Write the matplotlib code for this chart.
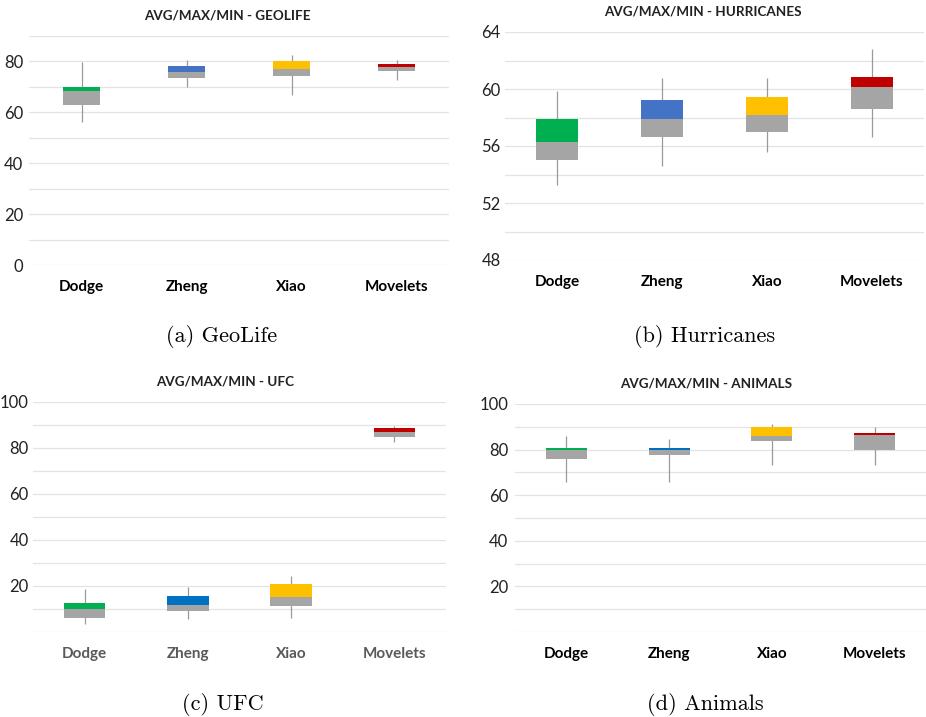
import matplotlib
matplotlib.use("Agg")
import matplotlib.pyplot as plt
from matplotlib.ticker import MultipleLocator

methods = ["Dodge", "Zheng", "Xiao", "Movelets"]

# GeoLife
geo_low = [56.1, 69.9, 67.0, 72.6]
geo_box_low = [62.7, 73.3, 74.2, 76.3]
geo_avg = [68.3, 75.9, 77.1, 77.8]
geo_box_high = [69.8, 78.3, 80.0, 79.1]
geo_high = [79.7, 80.4, 82.4, 80.4]

# Hurricanes
hur_low = [53.25, 54.6, 55.6, 56.6]
hur_box_low = [55.0, 56.65, 56.95, 58.6]
hur_avg = [56.25, 57.9, 58.2, 60.15]
hur_box_high = [57.9, 59.2, 59.45, 60.85]
hur_high = [59.85, 60.8, 60.8, 62.8]

# UFC
ufc_low = [3.6, 5.6, 6.2, 82.4]
ufc_box_low = [6.2, 9.1, 11.1, 84.6]
ufc_avg = [9.8, 11.7, 15.1, 87.1]
ufc_box_high = [12.6, 15.8, 20.9, 88.5]
ufc_high = [18.8, 19.6, 24.4, 89.4]

# Animals
ani_low = [65.9, 65.9, 73.2, 73.2]
ani_box_low = [76.0, 77.6, 83.7, 79.9]
ani_avg = [79.9, 79.7, 86.1, 86.3]
ani_box_high = [80.9, 80.6, 89.9, 87.4]
ani_high = [86.1, 84.8, 91.2, 89.9]

GREY = "#A5A5A5"
GREEN = "#00B050"
YELLOW = "#FFC000"
RED = "#C00000"

FONT = ["Lato", "DejaVu Sans"]
plt.rcParams["font.family"] = FONT

fig = plt.figure(figsize=(9.26, 7.17), dpi=100)


def panel(rect, title, title_xy, low, blo, avg, bhi, high, ylim, major, minor,
          colors, box_w, ypad, xlabel_color="#000000", hide_zero=False,
          tick_color="#222222"):
    ax = fig.add_axes(rect)
    x = [i + 0.5 for i in range(len(methods))]
    ax.vlines(x, low, high, color="#9A9A9A", lw=0.9, zorder=2)
    ax.bar(x, [a - b for a, b in zip(avg, blo)], bottom=blo, width=box_w,
           color=GREY, zorder=3)
    ax.bar(x, [h - a for h, a in zip(bhi, avg)], bottom=avg, width=box_w,
           color=colors, zorder=3)
    ax.set_xlim(0, len(methods))
    ax.set_ylim(*ylim)
    ax.yaxis.set_major_locator(MultipleLocator(major))
    ax.yaxis.set_minor_locator(MultipleLocator(minor))
    ax.grid(True, which="both", axis="y", color="#E3E3E3", lw=0.9, zorder=0)
    ax.set_axisbelow(True)
    for s in ax.spines.values():
        s.set_visible(False)
    ax.tick_params(axis="both", which="both", length=0)
    ax.tick_params(axis="y", labelsize=12, pad=ypad, colors=tick_color)
    ax.set_xticks(x)
    ax.set_xticklabels(methods, fontsize=11, fontweight="bold",
                       color=xlabel_color)
    ax.tick_params(axis="x", pad=11)
    if hide_zero:
        ticks = [t for t in ax.get_yticks() if ylim[0] < t <= ylim[1]]
        ax.set_yticks(ticks)
        ax.set_yticklabels([f"{int(t)}" for t in ticks])
    fig.text(title_xy[0] / 926, 1 - title_xy[1] / 717, title, ha="center",
             va="center", fontsize=9.7, fontweight="bold", color="#222222")
    return ax


panel([29 / 926, 452 / 717, 420 / 926, 229 / 717], "AVG/MAX/MIN - GEOLIFE",
      (227, 16), geo_low, geo_box_low, geo_avg, geo_box_high, geo_high,
      (0, 90), 20, 10, [GREEN, "#4472C4", YELLOW, RED], 0.35, 4)

panel([505 / 926, 457 / 717, 419 / 926, 228 / 717], "AVG/MAX/MIN - HURRICANES",
      (703, 12), hur_low, hur_box_low, hur_avg, hur_box_high, hur_high,
      (48, 64), 4, 2, [GREEN, "#4472C4", YELLOW, RED], 0.4, 3)

panel([33 / 926, 85 / 717, 413 / 926, 230 / 717], "AVG/MAX/MIN - UFC",
      (225, 382), ufc_low, ufc_box_low, ufc_avg, ufc_box_high, ufc_high,
      (0, 100), 20, 10, [GREEN, "#0070C0", YELLOW, RED], 0.4, 3,
      xlabel_color="#595959", hide_zero=True)

panel([515 / 926, 85 / 717, 411 / 926, 228 / 717], "AVG/MAX/MIN - ANIMALS",
      (706, 383), ani_low, ani_box_low, ani_avg, ani_box_high, ani_high,
      (0, 100), 20, 10, [GREEN, "#0070C0", YELLOW, RED], 0.4, 5,
      hide_zero=True)

captions = ["(a) GeoLife", "(b) Hurricanes", "(c) UFC", "(d) Animals"]
cap_pos = [(222, 337), (705, 337), (223, 704), (705, 704)]
for c, (cx, cy) in zip(captions, cap_pos):
    fig.text(cx / 926, 1 - cy / 717, c, ha="center", va="center",
             fontsize=16, family=["cmr10", "DejaVu Serif"], color="#000000")

fig.savefig("out.png", dpi=100, facecolor="white")
